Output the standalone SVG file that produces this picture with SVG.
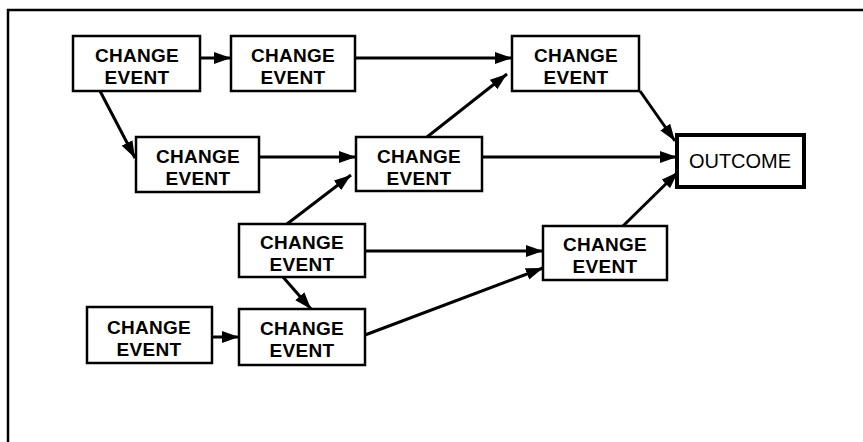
<svg xmlns="http://www.w3.org/2000/svg" width="863" height="442" viewBox="0 0 863 442">
  <style>
    .box { fill: #ffffff; stroke: #000000; stroke-width: 2.5; }
    .outcome { fill: #ffffff; stroke: #000000; stroke-width: 4; }
    .lbl { font-family: "Liberation Sans", Arial, sans-serif; font-weight: bold; font-size: 19px; letter-spacing: 0.3px; text-anchor: middle; fill: #000000; }
    .lbl2 { font-family: "Liberation Sans", Arial, sans-serif; font-size: 20px; text-anchor: middle; fill: #000000; }
    .edge { stroke: #000000; stroke-width: 3; fill: none; marker-end: url(#head); }
    .frame { stroke: #000000; stroke-width: 2.5; fill: none; }
  </style>
  <defs>
    <marker id="head" markerUnits="userSpaceOnUse" markerWidth="18" markerHeight="13" refX="17" refY="6.5" orient="auto">
      <path d="M0,0.5 L17,6.5 L0,12.5 z" fill="#000000"/>
    </marker>
  </defs>
  <rect x="0" y="0" width="863" height="442" fill="#ffffff"/>
  <!-- frame: top and left rules -->
  <path class="frame" d="M8,442 L8,10 L863,10"/>

  <g id="connectors">
    <line class="edge" x1="200" y1="58" x2="231" y2="58"/>
    <line class="edge" x1="100" y1="91" x2="135" y2="158"/>
    <line class="edge" x1="355" y1="58" x2="512" y2="58"/>
    <line class="edge" x1="259" y1="157" x2="356" y2="157"/>
    <line class="edge" x1="427" y1="137" x2="507" y2="74"/>
    <line class="edge" x1="482" y1="157" x2="677" y2="157"/>
    <line class="edge" x1="640" y1="91" x2="675" y2="141"/>
    <line class="edge" x1="623" y1="226" x2="678" y2="172"/>
    <line class="edge" x1="287" y1="224" x2="351" y2="175"/>
    <line class="edge" x1="365" y1="251" x2="543" y2="251"/>
    <line class="edge" x1="283" y1="277" x2="311" y2="309"/>
    <line class="edge" x1="212" y1="337" x2="239" y2="337"/>
    <line class="edge" x1="365" y1="335" x2="543" y2="268"/>
  </g>

  <g id="n1">
    <rect class="box" x="73" y="36" width="127" height="55"/>
    <text class="lbl"><tspan x="137" y="62">CHANGE</tspan><tspan x="137" y="83.5">EVENT</tspan></text>
  </g>
  <g id="n2">
    <rect class="box" x="231" y="36" width="124" height="55"/>
    <text class="lbl"><tspan x="293" y="62">CHANGE</tspan><tspan x="293" y="83.5">EVENT</tspan></text>
  </g>
  <g id="n3">
    <rect class="box" x="512" y="36" width="127" height="55"/>
    <text class="lbl"><tspan x="576" y="62">CHANGE</tspan><tspan x="576" y="83.5">EVENT</tspan></text>
  </g>
  <g id="n4">
    <rect class="box" x="136" y="137" width="123" height="55"/>
    <text class="lbl"><tspan x="198" y="163">CHANGE</tspan><tspan x="198" y="184.5">EVENT</tspan></text>
  </g>
  <g id="n5">
    <rect class="box" x="356" y="137" width="126" height="54"/>
    <text class="lbl"><tspan x="419" y="163">CHANGE</tspan><tspan x="419" y="184.5">EVENT</tspan></text>
  </g>
  <g id="outcome">
    <rect class="outcome" x="677" y="135" width="127" height="52"/>
    <text class="lbl2" x="740" y="168">OUTCOME</text>
  </g>
  <g id="n6">
    <rect class="box" x="239" y="224" width="126" height="53"/>
    <text class="lbl"><tspan x="302" y="249">CHANGE</tspan><tspan x="302" y="270.5">EVENT</tspan></text>
  </g>
  <g id="n7">
    <rect class="box" x="543" y="226" width="124" height="54"/>
    <text class="lbl"><tspan x="605" y="251">CHANGE</tspan><tspan x="605" y="272.5">EVENT</tspan></text>
  </g>
  <g id="n8">
    <rect class="box" x="87" y="307" width="125" height="56"/>
    <text class="lbl"><tspan x="149" y="334">CHANGE</tspan><tspan x="149" y="355.5">EVENT</tspan></text>
  </g>
  <g id="n9">
    <rect class="box" x="239" y="309" width="126" height="56"/>
    <text class="lbl"><tspan x="302" y="335">CHANGE</tspan><tspan x="302" y="356.5">EVENT</tspan></text>
  </g>
</svg>
